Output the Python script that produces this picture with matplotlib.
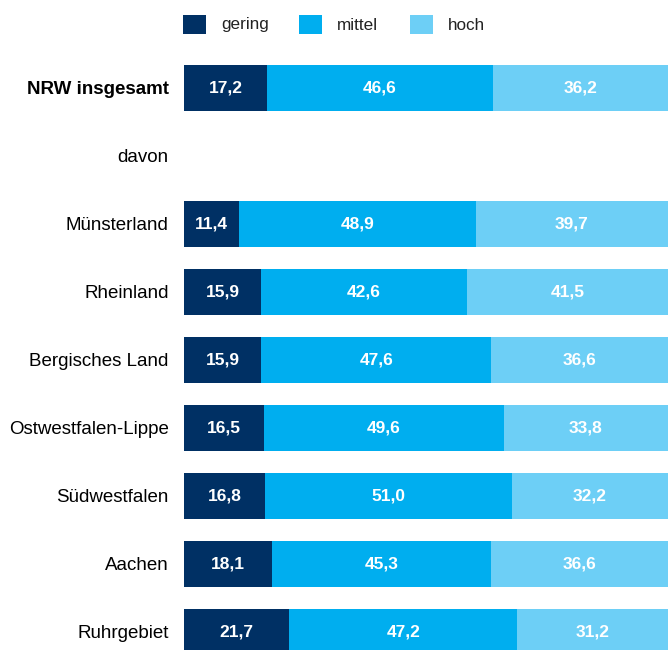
import matplotlib.pyplot as plt
from matplotlib.patches import Rectangle

plt.rcParams['font.family'] = ['Liberation Sans', 'DejaVu Sans']

# Daten
regionen = ["NRW insgesamt", "davon", "Münsterland", "Rheinland", "Bergisches Land",
            "Ostwestfalen-Lippe", "Südwestfalen", "Aachen", "Ruhrgebiet"]
gering = [17.2, None, 11.4, 15.9, 15.9, 16.5, 16.8, 18.1, 21.7]
mittel = [46.6, None, 48.9, 42.6, 47.6, 49.6, 51.0, 45.3, 47.2]
hoch = [36.2, None, 39.7, 41.5, 36.6, 33.8, 32.2, 36.6, 31.2]
serien = ["gering", "mittel", "hoch"]
farben = ["#003064", "#00AEEF", "#6DCFF6"]

W, H = 668, 650
fig = plt.figure(figsize=(W / 100, H / 100), dpi=100)
ax = fig.add_axes([184 / W, 0, 1 - 184 / W, 610 / H])

werte = [gering, mittel, hoch]
for i, name in enumerate(regionen):
    if gering[i] is None:
        continue
    links = 0
    for s in range(3):
        v = werte[s][i]
        ax.barh(i, v, left=links, height=0.68, color=farben[s], linewidth=0)
        ax.text(links + v / 2, i, f"{v:.1f}".replace(".", ","), ha="center", va="center",
                color="white", fontsize=12.5, fontweight="bold")
        links += v

ax.set_xlim(0, 100)
ax.set_ylim((650 - 88) / 68, (40 - 88) / 68)
ax.set_yticks(range(len(regionen)))
ax.set_yticklabels(regionen, fontsize=13.5)
ax.get_yticklabels()[0].set_fontweight("bold")
ax.tick_params(axis="y", length=0, pad=11)
ax.set_xticks([])
for sp in ax.spines.values():
    sp.set_visible(False)

# Legende
lx = [183, 299, 410]
for s in range(3):
    fig.patches.append(Rectangle((lx[s] / W, 1 - 34 / H), 23 / W, 19 / H,
                                 transform=fig.transFigure, color=farben[s], linewidth=0))
    fig.text((lx[s] + 38) / W, 1 - 25 / H, serien[s], fontsize=12.3, va="center",
             color="#222222")

fig.savefig("out.png", dpi=100)
